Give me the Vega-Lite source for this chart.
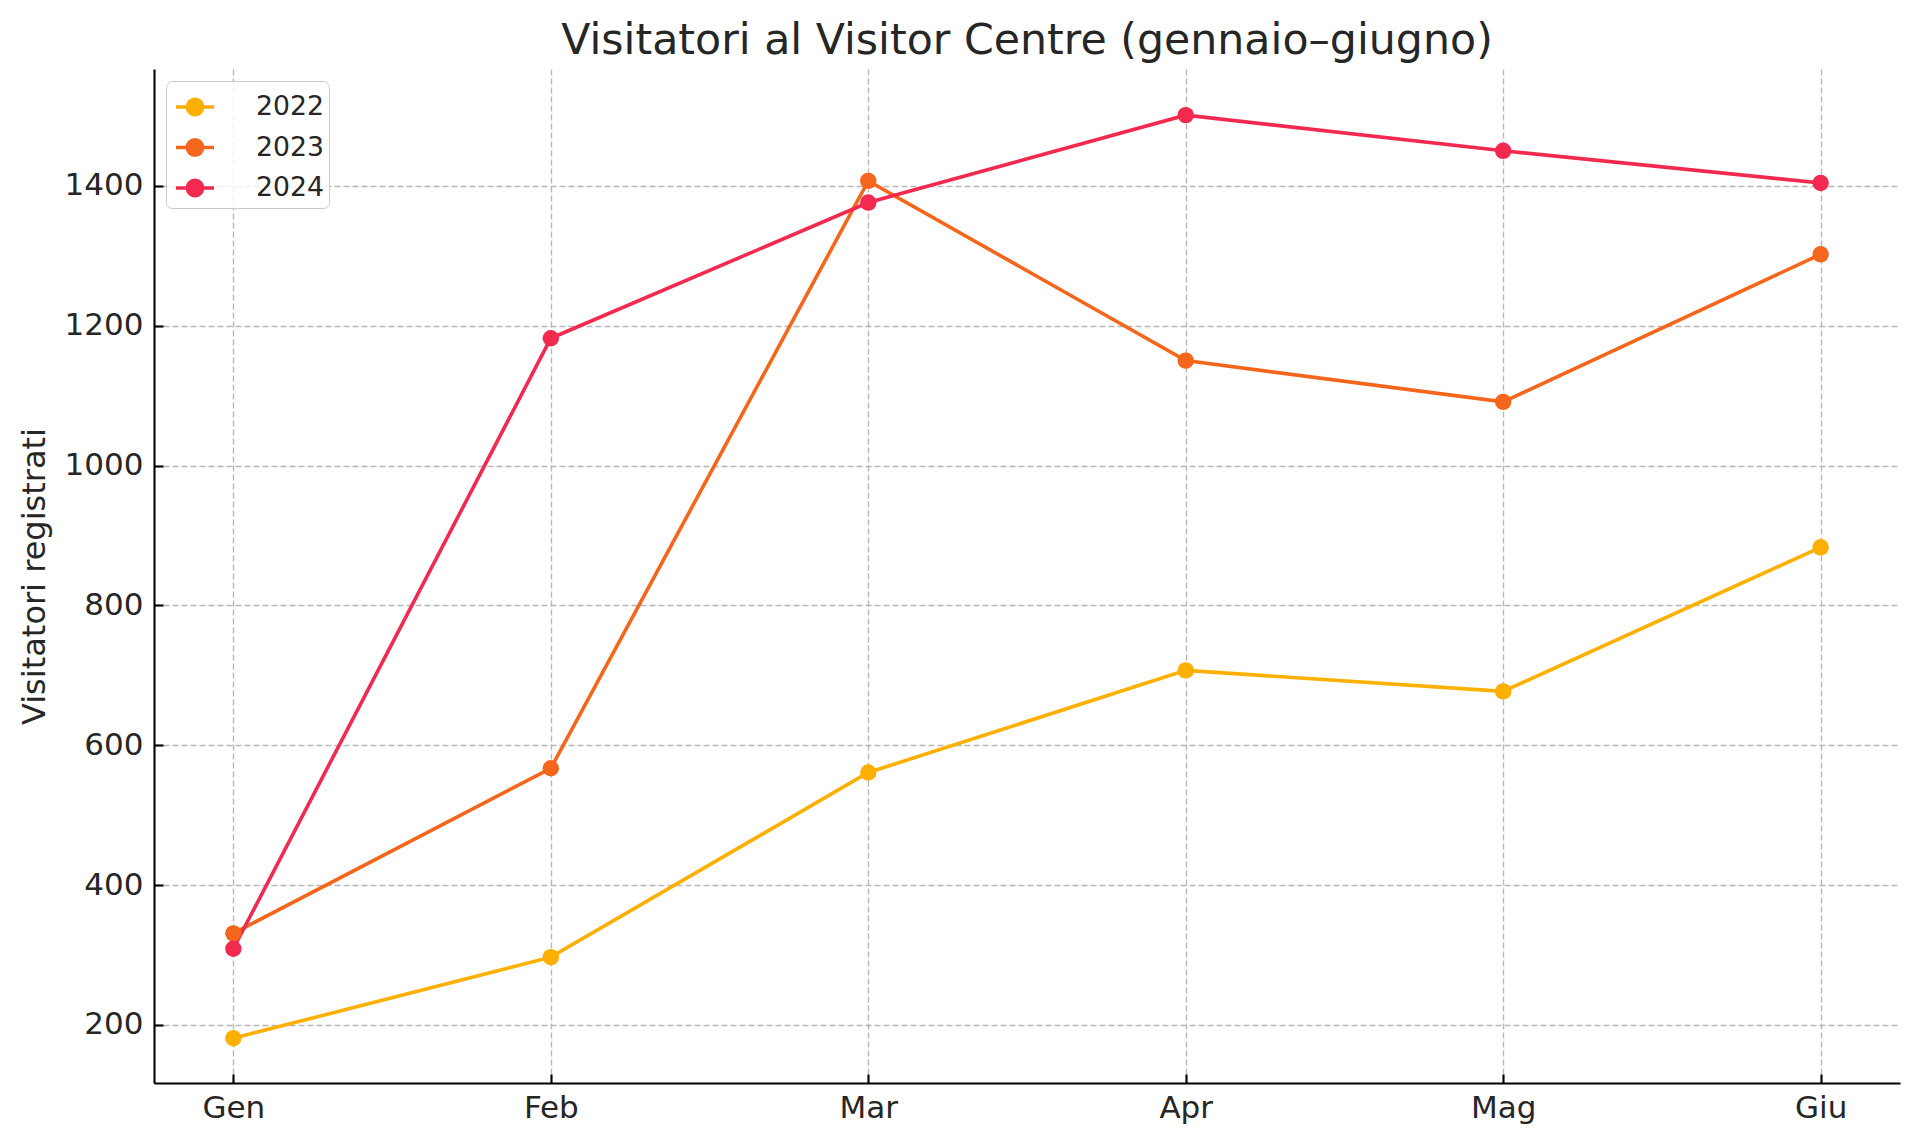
{
  "$schema": "https://vega.github.io/schema/vega-lite/v6.json",
  "width": 1746,
  "height": 1014,
  "autosize": "none",
  "padding": {"left": 154, "top": 69, "right": 20, "bottom": 61},
  "background": "white",
  "title": {
    "text": "Visitatori al Visitor Centre (gennaio–giugno)",
    "fontSize": 42.7,
    "font": "DejaVu Sans",
    "fontWeight": "normal",
    "color": "#262626",
    "anchor": "middle",
    "baseline": "alphabetic",
    "offset": 20,
    "dy": 48
  },
  "config": {
    "font": "DejaVu Sans",
    "view": {"stroke": null},
    "axis": {
      "labelFont": "DejaVu Sans",
      "titleFont": "DejaVu Sans",
      "labelColor": "#262626",
      "titleColor": "#262626",
      "domainColor": "#000000",
      "domainWidth": 2.1,
      "tickColor": "#000000",
      "tickWidth": 2.1,
      "tickSize": -9,
      "gridColor": "#b8b8b8",
      "gridWidth": 1.4,
      "gridDash": [6, 3],
      "labelFontSize": 31,
      "titleFontSize": 32,
      "titleFontWeight": "normal"
    }
  },
  "data": {
    "values": [
      {"mese": "Gen", "anno": "2022", "visitatori": 181},
      {"mese": "Feb", "anno": "2022", "visitatori": 297},
      {"mese": "Mar", "anno": "2022", "visitatori": 561},
      {"mese": "Apr", "anno": "2022", "visitatori": 707},
      {"mese": "Mag", "anno": "2022", "visitatori": 677},
      {"mese": "Giu", "anno": "2022", "visitatori": 883},
      {"mese": "Gen", "anno": "2023", "visitatori": 331},
      {"mese": "Feb", "anno": "2023", "visitatori": 567},
      {"mese": "Mar", "anno": "2023", "visitatori": 1407},
      {"mese": "Apr", "anno": "2023", "visitatori": 1150},
      {"mese": "Mag", "anno": "2023", "visitatori": 1091},
      {"mese": "Giu", "anno": "2023", "visitatori": 1302},
      {"mese": "Gen", "anno": "2024", "visitatori": 309},
      {"mese": "Feb", "anno": "2024", "visitatori": 1182},
      {"mese": "Mar", "anno": "2024", "visitatori": 1376},
      {"mese": "Apr", "anno": "2024", "visitatori": 1501},
      {"mese": "Mag", "anno": "2024", "visitatori": 1450},
      {"mese": "Giu", "anno": "2024", "visitatori": 1404}
    ]
  },
  "encoding": {
    "x": {
      "field": "mese",
      "type": "ordinal",
      "sort": ["Gen", "Feb", "Mar", "Apr", "Mag", "Giu"],
      "scale": {"type": "point", "padding": 0.25},
      "axis": {"title": null, "labelAngle": 0, "grid": true, "labelPadding": 19}
    },
    "y": {
      "field": "visitatori",
      "type": "quantitative",
      "scale": {"domain": [117, 1567], "nice": false, "zero": false},
      "axis": {
        "title": "Visitatori registrati",
        "values": [200, 400, 600, 800, 1000, 1200, 1400],
        "format": "d",
        "grid": true,
        "labelPadding": 20,
        "titlePadding": 13
      }
    },
    "color": {
      "field": "anno",
      "type": "nominal",
      "scale": {"domain": ["2022", "2023", "2024"], "range": ["#FDB000", "#F4661B", "#F22A50"]},
      "legend": {
        "title": null,
        "orient": "top-left",
        "offset": 12,
        "padding": 5,
        "symbolOffset": 3,
        "fillColor": "rgba(255,255,255,0.8)",
        "strokeColor": "#cccccc",
        "cornerRadius": 6,
        "labelFontSize": 26.7,
        "labelFont": "DejaVu Sans",
        "labelColor": "#262626",
        "labelOffset": 40,
        "rowPadding": 4.5,
        "symbolType": "M-1,0L1,0M0.4,0A0.4,0.4,0,1,1,-0.4,0A0.4,0.4,0,1,1,0.4,0Z",
        "symbolSize": 1444,
        "symbolStrokeWidth": 3.6,
        "symbolOpacity": 1
      }
    }
  },
  "layer": [
    {"mark": {"type": "line", "strokeWidth": 3.6}},
    {"mark": {"type": "point", "filled": true, "opacity": 1, "size": 270}}
  ]
}
